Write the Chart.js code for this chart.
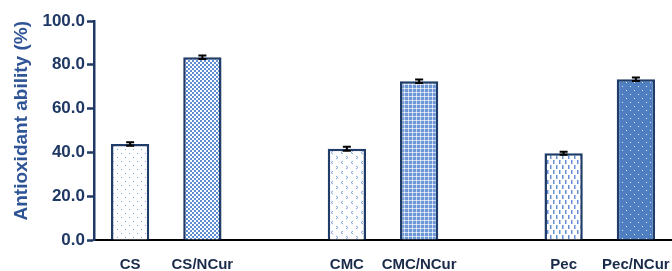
<!DOCTYPE html>
<html><head><meta charset="utf-8">
<script src="https://cdn.jsdelivr.net/npm/chart.js@4"></script>
<style>html,body{margin:0;padding:0;background:#fff}#w{width:672px;height:271px}</style>
</head><body><div id="w"><canvas id="c"></canvas></div>
<script>
const categories = ["CS","CS/NCur","","CMC","CMC/NCur","","Pec","Pec/NCur"];
const values = [43.8, 83.4, null, 41.7, 72.5, null, 39.6, 73.4];
const errors = [0.8, 0.8, null, 0.9, 0.8, null, 0.7, 0.8];
const yTicks = [0, 20, 40, 60, 80, 100];

function tile(w, h, draw) {
  const c = document.createElement('canvas'); c.width = w; c.height = h;
  const g = c.getContext('2d'); draw(g);
  return document.createElement('canvas').getContext('2d').createPattern(c, 'repeat');
}
const patterns = [
  tile(8, 8, g => { g.fillStyle='#fff'; g.fillRect(0,0,8,8); g.fillStyle='#7fa3da'; g.fillRect(1,1,1,1); g.fillRect(5,5,1,1); }),
  tile(4, 4, g => { g.fillStyle='#fff'; g.fillRect(0,0,4,4); g.fillStyle='#5f8dd2'; g.fillRect(0,0,2,2); g.fillRect(2,2,2,2); }),
  null,
  tile(10, 10, g => { g.fillStyle='#fff'; g.fillRect(0,0,10,10); g.strokeStyle='#7fa3da'; g.lineWidth=1;
    g.beginPath(); g.moveTo(3,1); g.lineTo(1,2.5); g.lineTo(3,4); g.moveTo(6,6); g.lineTo(8,7.5); g.lineTo(6,9); g.stroke(); }),
  tile(4, 4, g => { g.fillStyle='#6e97d6'; g.fillRect(0,0,4,4); g.fillStyle='#c9d9f1'; g.fillRect(0,0,4,1); g.fillRect(0,0,1,4); g.fillStyle='#fff'; g.fillRect(0,0,1,1); }),
  null,
  tile(6, 10, g => { g.fillStyle='#fff'; g.fillRect(0,0,6,10); g.fillStyle='#6690d3'; g.fillRect(1,0,1.5,4); g.fillRect(4,5,1.5,4); }),
  tile(8, 8, g => { g.fillStyle='#4f7fc0'; g.fillRect(0,0,8,8); g.fillStyle='#dfe9f7'; g.fillRect(2,2,1,1); g.fillRect(6,6,1,1); })
];

const errPlugin = {
  id: 'err',
  afterDatasetsDraw(chart) {
    const ctx = chart.ctx, meta = chart.getDatasetMeta(0), y = chart.scales.y;
    ctx.save(); ctx.strokeStyle = '#000'; ctx.lineWidth = 2;
    meta.data.forEach((bar, i) => {
      if (values[i] == null) return;
      const x = bar.x, y1 = y.getPixelForValue(values[i] - errors[i]), y2 = y.getPixelForValue(values[i] + errors[i]);
      ctx.beginPath(); ctx.moveTo(x, y1); ctx.lineTo(x, y2);
      ctx.moveTo(x-4, y1); ctx.lineTo(x+4, y1); ctx.moveTo(x-4, y2); ctx.lineTo(x+4, y2); ctx.stroke();
    });
    ctx.restore();
  }
};

const navy = '#1f3864';
new Chart(document.getElementById('c'), {
  type: 'bar',
  data: { labels: categories, datasets: [{ data: values, backgroundColor: patterns, borderColor: '#203c68', borderWidth: 2.5, barPercentage: 0.53, categoryPercentage: 1 }] },
  options: {
    responsive: true, maintainAspectRatio: false, animation: false,
    layout: { padding: { top: 21, right: -2, left: 4, bottom: 0 } },
    plugins: { legend: { display: false }, tooltip: { enabled: false } },
    scales: {
      x: {
        afterFit: s => { s.height = 31; s.paddingRight = 0; s.paddingLeft = 0; },
        grid: { display: true, drawOnChartArea: false, drawTicks: false },
        border: { display: true, color: '#000', width: 2 },
        ticks: { color: '#1a2a4a', padding: 16, font: { family: 'Liberation Sans', size: 15, weight: 'bold' }, maxRotation: 0, autoSkip: false }
      },
      y: {
        min: 0, max: 100,
        afterFit: s => { s.width = 90; s.paddingTop = 0; s.paddingBottom = 0; },
        afterBuildTicks: s => { s.ticks = yTicks.map(v => ({ value: v })); },
        grid: { display: true, drawOnChartArea: false, drawTicks: true, tickLength: 7, color: navy, tickWidth: 2.5 },
        border: { display: true, color: navy, width: 2.5 },
        ticks: { color: navy, padding: 2, font: { family: 'Liberation Sans', size: 17, weight: 'bold' }, callback: v => Number(v).toFixed(1) },
        title: { display: true, text: 'Antioxidant ability (%)', align: 'end', color: '#2f5597', padding: { top: 6, bottom: 0 }, font: { family: 'Liberation Sans', size: 19, weight: 'bold' } }
      }
    }
  },
  plugins: [errPlugin]
});
</script></body></html>
